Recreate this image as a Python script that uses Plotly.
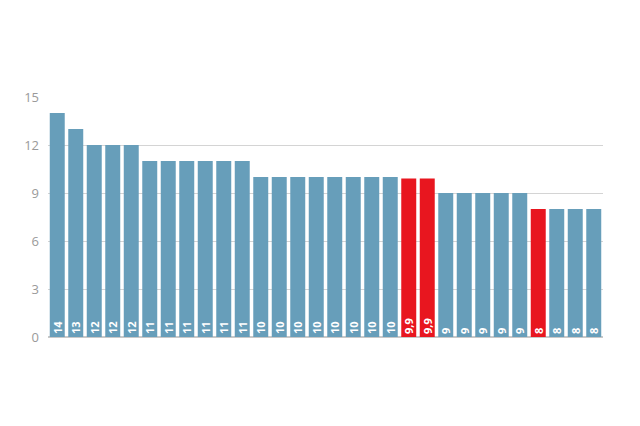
import plotly.graph_objects as go

# values, ranked high to low
values = [14, 13, 12, 12, 12, 11, 11, 11, 11, 11, 11,
          10, 10, 10, 10, 10, 10, 10, 10, 9.9, 9.9,
          9, 9, 9, 9, 9, 8, 8, 8, 8]
labels = ["14", "13", "12", "12", "12", "11", "11", "11", "11", "11", "11",
          "10", "10", "10", "10", "10", "10", "10", "10", "9,9", "9,9",
          "9", "9", "9", "9", "9", "8", "8", "8", "8"]
highlight = [19, 20, 26]  # red bars
y_ticks = [0, 3, 6, 9, 12, 15]

BLUE = "#679eba"
RED = "#e8161f"

colors = [RED if i in highlight else BLUE for i in range(len(values))]

fig = go.Figure(go.Bar(
    x=list(range(len(values))),
    y=values,
    text=labels,
    textposition="inside",
    insidetextanchor="start",
    textangle=-90,
    textfont=dict(family="Open Sans", size=11, color="white", weight="bold"),
    marker=dict(color=colors, line=dict(width=0)),
    hoverinfo="skip",
))

# page body adds an 8px offset, margins compensate for it
fig.update_layout(
    width=640, height=426,
    margin=dict(l=40, r=45, t=89, b=97),
    paper_bgcolor="white",
    plot_bgcolor="white",
    bargap=0.19,
    showlegend=False,
    uniformtext=dict(minsize=11, mode="show"),
    xaxis=dict(visible=False, range=[-0.5, len(values) - 0.5]),
    yaxis=dict(
        range=[0, 15], tickvals=y_ticks,
        showgrid=True, gridcolor="#d4d4d4", gridwidth=1,
        zeroline=True, zerolinecolor="#c8c8c8",
        ticks="", ticklabelstandoff=8,
        tickfont=dict(family="Open Sans", size=13, color="#9a9a9a"),
    ),
)

fig.write_html("out.html")
